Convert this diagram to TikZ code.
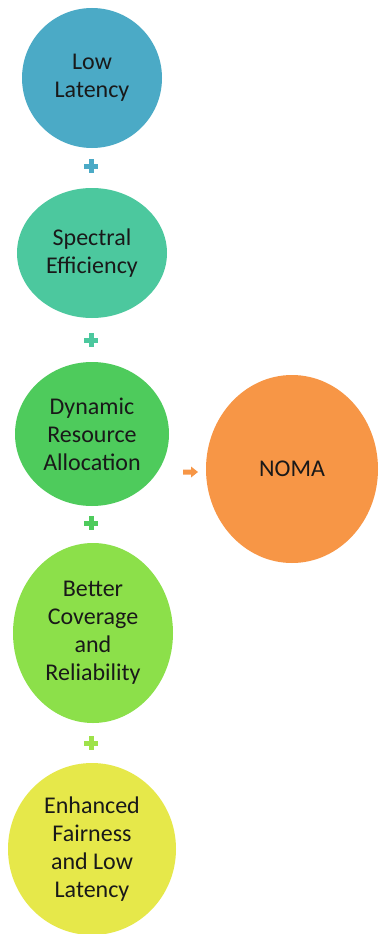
\documentclass[tikz,border=0pt]{standalone}
\usepackage{fontspec}
\setmainfont{Carlito}
\usetikzlibrary{shapes.geometric,calc}
\definecolor{cA}{RGB}{75,170,198}
\definecolor{cB}{RGB}{76,200,158}
\definecolor{cC}{RGB}{78,203,92}
\definecolor{cD}{RGB}{140,224,74}
\definecolor{cE}{RGB}{230,232,74}
\definecolor{cN}{RGB}{247,150,70}
\definecolor{txt}{RGB}{25,25,25}
\tikzset{
  bubble/.style={ellipse, inner sep=0pt, draw=none, text=txt, align=center,
    font=\fontsize{24}{28}\selectfont}
}
\newcommand{\plusat}[2]{%
  \fill[#2] ($(#1)+(-7,-2.5)$) rectangle ($(#1)+(7,2.5)$);
  \fill[#2] ($(#1)+(-2.5,-7)$) rectangle ($(#1)+(2.5,7)$);}
\newcommand{\arrowat}[2]{%
  \fill[#2] ($(#1)+(-7,-2.5)$) -- ($(#1)+(1,-2.5)$) -- ($(#1)+(1,-5.5)$) --
    ($(#1)+(8,0)$) -- ($(#1)+(1,5.5)$) -- ($(#1)+(1,2.5)$) -- ($(#1)+(-7,2.5)$) -- cycle;}
\begin{document}
\begin{tikzpicture}[x=1pt,y=-1pt]
\useasboundingbox[fill=white] (0,0) rectangle (380,934);
\node[bubble, fill=cA, minimum width=140pt, minimum height=140pt] (low) at (92,78) {Low\\Latency};
\node[bubble, fill=cB, minimum width=150pt, minimum height=130pt] (spec) at (92,253) {Spectral\\Efficiency};
\node[bubble, fill=cC, minimum width=154pt, minimum height=144pt] (dyn) at (92,434) {Dynamic\\Resource\\Allocation};
\node[bubble, fill=cD, minimum width=160pt, minimum height=180pt] (cov) at (93,633) {Better\\Coverage\\and\\Reliability};
\node[bubble, fill=cE, minimum width=168pt, minimum height=172pt] (fair) at (92,849) {Enhanced\\Fairness\\and Low\\Latency};
\node[bubble, fill=cN, minimum width=172pt, minimum height=188pt] (noma) at (292,469) {NOMA};
\coordinate (p1) at (91,166);
\coordinate (p2) at (91,340);
\coordinate (p3) at (91,523);
\coordinate (p4) at (91,743);
\coordinate (arr) at (190,472);
\plusat{p1}{cA}
\plusat{p2}{cB}
\plusat{p3}{cC}
\plusat{p4}{cD!80!cE}
\arrowat{arr}{cN}
\end{tikzpicture}
\end{document}
